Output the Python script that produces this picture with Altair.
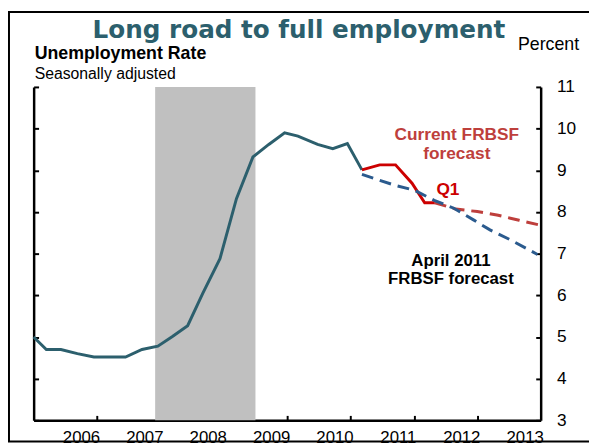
import altair as alt
import pandas as pd

# ---------------- data ----------------
hist_year = [2006.00, 2006.20, 2006.43, 2006.69, 2006.95, 2007.20, 2007.45, 2007.71,
             2007.96, 2008.19, 2008.43, 2008.67, 2008.94, 2009.20, 2009.46, 2009.71,
             2009.96, 2010.17, 2010.48, 2010.72, 2010.95, 2011.18]
hist_rate = [5.00, 4.70, 4.70, 4.60, 4.52, 4.52, 4.52, 4.70,
             4.78, 5.01, 5.27, 6.05, 6.88, 8.32, 9.32, 9.62,
             9.90, 9.82, 9.62, 9.52, 9.64, 9.01]

cur_year = [2011.18, 2011.46, 2011.71, 2011.97, 2012.17, 2012.33]
cur_rate = [9.01, 9.13, 9.13, 8.69, 8.22, 8.22]

cur_fc_year = [2012.33, 2012.66, 2013.00, 2013.33, 2013.66, 2014.00]
cur_fc_rate = [8.22, 8.07, 8.01, 7.92, 7.80, 7.68]

apr_year = [2011.18, 2011.70, 2012.01, 2012.32, 2012.63, 2012.94, 2013.20, 2013.51, 2013.95]
apr_rate = [8.90, 8.64, 8.52, 8.28, 8.09, 7.81, 7.57, 7.34, 6.98]

recession_start = [2007.917]
recession_end = [2009.5]

year_labels = [2006, 2007, 2008, 2009, 2010, 2011, 2012, 2013]
year_ticks = [2007, 2008, 2009, 2010, 2011, 2012, 2013]
rate_ticks = [3, 4, 5, 6, 7, 8, 9, 10, 11]

title_text = ["Long road to full employment"]
subtitle1 = ["Unemployment Rate"]
subtitle2 = ["Seasonally adjusted"]
unit_text = ["Percent"]
cur_label = ["Current FRBSF\nforecast"]
q1_label = ["Q1"]
apr_label = ["April 2011\nFRBSF forecast"]

# ---------------- layout ----------------
W, H = 514, 338
FONT = "Liberation Sans"
TEAL = "#2C5F6D"
RED = "#CC0000"
RED_D = "#BE3F3C"
BLUE = "#2B5B8E"

xs = alt.Scale(domain=[2006, 2014], nice=False, zero=False)
ys = alt.Scale(domain=[3, 11], nice=False, zero=False)

common_ax = dict(grid=False, title=None, domainColor="black", domainWidth=2.5,
                 tickColor="black", tickWidth=2)

rec = alt.Chart(pd.DataFrame({"start": recession_start, "end": recession_end})).mark_rect(
    color="#C0C0C0").encode(
    x=alt.X("start:Q", scale=xs, axis=alt.Axis(orient="top", offset=-H, values=year_ticks,
                                                labels=False, domain=True, ticks=True, tickSize=5,
                                                **common_ax)),
    x2="end:Q",
    y=alt.value(0), y2=alt.value(H),
)

teal = alt.Chart(pd.DataFrame({"year": hist_year, "rate": hist_rate})).mark_line(
    color=TEAL, strokeWidth=3).encode(
    x=alt.X("year:Q", scale=xs, axis=alt.Axis(orient="bottom", values=year_labels, ticks=False,
                                               tickSize=0, domain=False, labelOffset=48,
                                               labelPadding=22, labelBaseline="alphabetic",
                                               labelFlush=False, labelFont=FONT, labelFontSize=17,
                                               labelColor="black", format="d", **common_ax)),
    y=alt.Y("rate:Q", scale=ys, axis=alt.Axis(orient="right", offset=-W, values=rate_ticks,
                                               labels=False, domain=True, ticks=True, tickSize=5,
                                               **common_ax)),
)

red = alt.Chart(pd.DataFrame({"year": cur_year, "rate": cur_rate})).mark_line(
    color=RED, strokeWidth=3).encode(
    x=alt.X("year:Q", scale=xs, axis=None),
    y=alt.Y("rate:Q", scale=ys, axis=alt.Axis(orient="left", offset=-W, values=rate_ticks,
                                               labels=False, domain=True, ticks=True, tickSize=5,
                                               **common_ax)),
)

red_fc = alt.Chart(pd.DataFrame({"year": cur_fc_year, "rate": cur_fc_rate})).mark_line(
    color=RED_D, strokeWidth=3, strokeDash=[12, 7]).encode(
    x=alt.X("year:Q", scale=xs, axis=None),
    y=alt.Y("rate:Q", scale=ys, axis=alt.Axis(orient="right", values=rate_ticks, labels=True,
                                               domain=False, ticks=False, tickSize=0,
                                               labelPadding=16, labelFont=FONT, labelFontSize=17.5,
                                               labelColor="black", **common_ax)),
)

blue = alt.Chart(pd.DataFrame({"year": apr_year, "rate": apr_rate})).mark_line(
    color=BLUE, strokeWidth=3, strokeDash=[12, 7]).encode(
    x=alt.X("year:Q", scale=xs, axis=None),
    y=alt.Y("rate:Q", scale=ys, axis=None),
)


def txt(lines, x, y, size, color="black", weight="normal", align="left", font=FONT, lh=None):
    kw = dict(align=align, baseline="alphabetic", fontSize=size, font=font, fontWeight=weight,
              color=color, lineBreak="\n")
    if lh:
        kw["lineHeight"] = lh
    return alt.Chart(pd.DataFrame({"t": lines})).mark_text(**kw).encode(
        text="t:N", x=alt.value(x), y=alt.value(y))


frame = alt.Chart(pd.DataFrame({"k": [0]})).mark_rect(
    fill=None, stroke="black", strokeWidth=2).encode(
    x=alt.value(-25), x2=alt.value(580), y=alt.value(-76), y2=alt.value(359.5))

layers = [
    rec, teal, red, red_fc, blue,
    txt(title_text, 269, -49.5, 25, TEAL, "bold", "center", "DejaVu Sans"),
    txt(subtitle1, 1, -28, 18, "black", "bold"),
    txt(subtitle2, 1, -8, 16),
    txt(unit_text, 491, -37, 18),
    txt(cur_label, 429, 54.3, 17.5, RED_D, "bold", "center", lh=19),
    txt(q1_label, 420, 110, 17.5, RED, "bold", "center"),
    txt(apr_label, 423, 182, 17, "black", "bold", "center", lh=18),
    frame,
]

chart = alt.layer(*layers).resolve_axis(x="independent", y="independent").properties(
    width=W, height=H,
    padding={"left": 26, "top": 77, "right": 49, "bottom": 24},
    autosize=alt.AutoSizeParams(type="none"),
    background="white",
).configure_view(strokeWidth=0)

chart.save("out.html", embed_options={"renderer": "svg", "actions": False})
